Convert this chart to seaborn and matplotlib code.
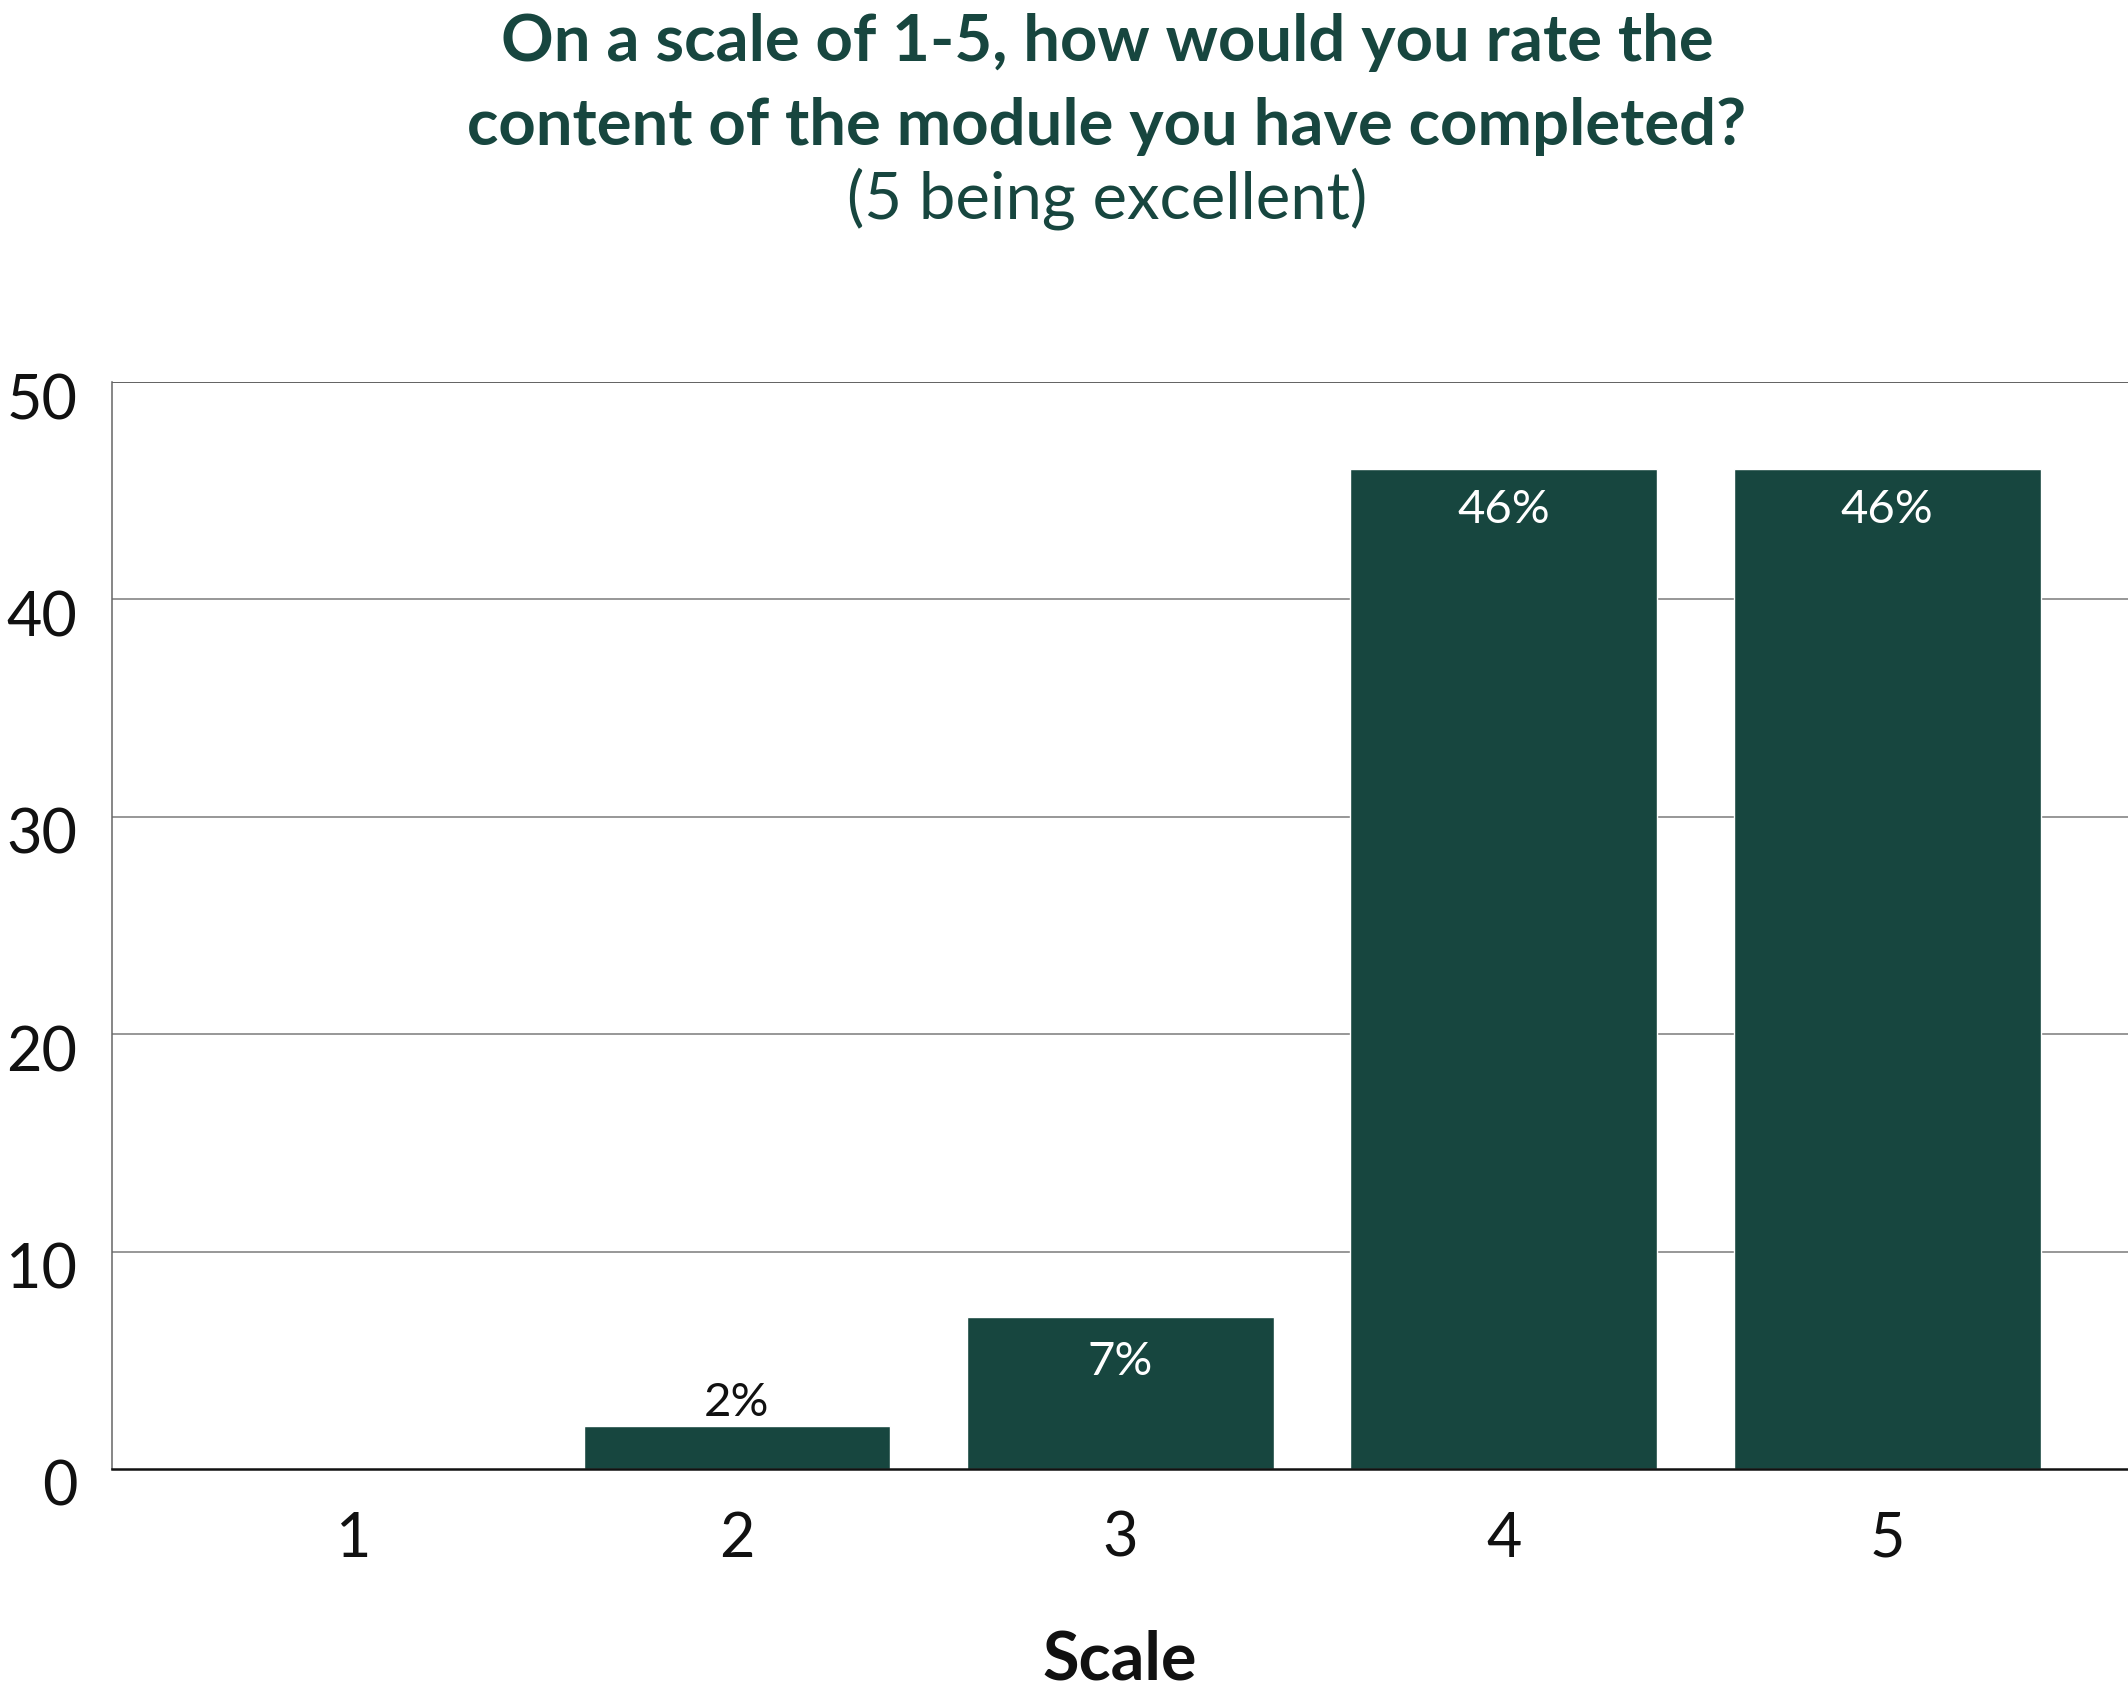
import matplotlib
matplotlib.use("Agg")
import matplotlib.pyplot as plt
import matplotlib.transforms as mtransforms
import seaborn as sns
import pandas as pd

# ---- data ----
categories = ["1", "2", "3", "4", "5"]
values = [0, 2, 7, 46, 46]
bar_labels = ["", "2%", "7%", "46%", "46%"]
y_ticks = [0, 10, 20, 30, 40, 50]

title_line1 = "On a scale of 1-5, how would you rate the"
title_line2 = "content of the module you have completed?"
title_line3 = "(5 being excellent)"
x_label = "Scale"

GREEN = "#17463f"

sns.set_theme(style="white")
plt.rcParams["font.family"] = ["Lato", "DejaVu Sans"]

W, H = 2128, 1705
fig = plt.figure(figsize=(W / 100, H / 100), dpi=100)
ax = fig.add_axes([112 / W, 1 - 1469 / H, 1 - 112 / W, (1469 - 382) / H])

df = pd.DataFrame({"scale": categories, "value": values})
sns.barplot(data=df, x="scale", y="value", color=GREEN, saturation=1,
            width=0.8, ax=ax, zorder=3)

ax.set_xlim(-0.630, 4.628)
ax.set_ylim(0, 50)
ax.set_yticks(y_ticks)
ax.set_yticklabels([str(t) for t in y_ticks])

for y in y_ticks[1:-1]:
    ax.axhline(y, color="#7a7a7a", lw=1.1, zorder=1)
ax.axhline(50, color="#555555", lw=1.3, zorder=1)

for s in ["top", "right"]:
    ax.spines[s].set_visible(False)
ax.spines["left"].set_color("#666666")
ax.spines["left"].set_linewidth(1.1)
ax.spines["bottom"].set_color("#111111")
ax.spines["bottom"].set_linewidth(1.8)
ax.spines["bottom"].set_zorder(4)

ax.tick_params(axis="both", length=0, labelsize=44, colors="#111111")
ax.tick_params(axis="y", pad=25)
ax.tick_params(axis="x", pad=30)
offset = mtransforms.ScaledTranslation(0, -14 / 100, fig.dpi_scale_trans)
for lab in ax.get_yticklabels():
    lab.set_transform(lab.get_transform() + offset)

ax.set_ylabel("")
ax.set_xlabel(x_label, fontsize=48, fontweight="bold", color="#111111")
ax.xaxis.label.set_va("baseline")
ax.xaxis.set_label_coords(0.5, -(1680 - 1469) / (1469 - 382))

# value labels
for i, (v, lab) in enumerate(zip(values, bar_labels)):
    if not lab:
        continue
    if v < 5:
        ax.annotate(lab, (i, v), xytext=(0, 10 * 0.72), textcoords="offset points",
                    ha="center", va="baseline", fontsize=34, color="#111111",
                    zorder=5)
    else:
        dy = 54 if v > 20 else 58
        ax.annotate(lab, (i, v), xytext=(0, -dy * 0.72), textcoords="offset points",
                    ha="center", va="baseline", fontsize=34, color="white",
                    zorder=5)

cx = 1107 / W
fig.text(cx, 1 - 61 / H, title_line1, ha="center", va="baseline",
         fontsize=47, fontweight="bold", color=GREEN)
fig.text(cx, 1 - 145 / H, title_line2, ha="center", va="baseline",
         fontsize=47, fontweight="bold", color=GREEN)
fig.text(cx, 1 - 219 / H, title_line3, ha="center", va="baseline",
         fontsize=47, color=GREEN)

fig.savefig("out.png", dpi=100)
